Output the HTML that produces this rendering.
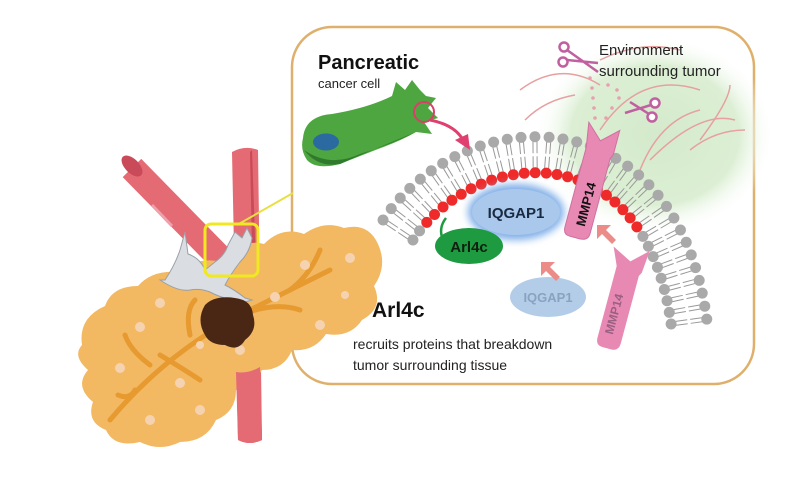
<!DOCTYPE html>
<html><head><meta charset="utf-8"><style>
html,body{margin:0;padding:0;background:#fff;width:800px;height:480px;overflow:hidden}
svg{display:block}
text{font-family:"Liberation Sans",Arial,sans-serif}
</style></head><body>
<svg id="s" width="800" height="480" viewBox="0 0 800 480" xmlns="http://www.w3.org/2000/svg">
<defs>
<radialGradient id="gg" cx="0.5" cy="0.5" r="0.5">
<stop offset="0" stop-color="#d4eacb"/><stop offset="0.7" stop-color="#dcefd4"/><stop offset="1" stop-color="#ffffff" stop-opacity="0"/>
</radialGradient>
<filter id="blur" x="-30%" y="-30%" width="160%" height="160%"><feGaussianBlur stdDeviation="4"/></filter>
</defs>
<rect x="292" y="27" width="462" height="357" rx="40" fill="#fff" stroke="#dfb06c" stroke-width="2.5"/>
<ellipse cx="655" cy="135" rx="120" ry="100" fill="url(#gg)"/>
<g fill="none" stroke="#e6a0a0" stroke-width="1.5">
<path d="M520 90 Q560 60 600 85"/><path d="M525 120 Q545 100 575 95"/>
<path d="M600 130 Q640 70 700 90"/><path d="M640 170 Q660 120 700 110"/>
<path d="M650 160 Q700 110 735 120"/><path d="M690 150 Q715 130 745 130"/>
<path d="M600 60 Q640 40 680 50"/><path d="M700 140 Q730 100 730 85"/>
</g>
<g fill="#e8a0b0"><circle cx="590" cy="78" r="1.8"/><circle cx="592" cy="88" r="1.8"/><circle cx="593" cy="98" r="1.8"/><circle cx="594" cy="108" r="1.8"/><circle cx="595" cy="118" r="1.8"/><circle cx="608" cy="85" r="1.8"/><circle cx="617" cy="90" r="1.8"/><circle cx="606" cy="118" r="1.8"/><circle cx="612" cy="108" r="1.8"/><circle cx="619" cy="98" r="1.8"/></g>
<g stroke="#c060a0" stroke-width="2.5" fill="none">
<circle cx="564" cy="47" r="4.5" fill="#fff"/><circle cx="563" cy="62" r="4.5" fill="#fff"/>
<path d="M567 50 L598 72 M567 60 L598 63"/>
<circle cx="655" cy="103" r="4.5" fill="#fff"/><circle cx="652" cy="117" r="4.5" fill="#fff"/>
<path d="M651 105 L625 113 M649 114 L630 102"/>
</g>
<text x="599" y="55" font-size="15" fill="#222">Environment</text>
<text x="599" y="76" font-size="15" fill="#222">surrounding tumor</text>
<g id="lip"></g>
<!-- cancer cell -->
<path d="M303 138 Q305 116 332 114 Q368 108 392 96 L396 82 L405 90 L412 80 L420 90 L426 96 L436 98 L428 108 L438 118 L424 122 L432 134 L416 132 Q402 140 386 146 Q360 156 340 164 Q316 170 307 160 Q300 150 303 138Z" fill="#4ea640"/>
<path d="M304 150 Q318 168 340 164 Q372 150 416 132 Q392 144 360 154 Q330 168 304 150Z" fill="#2f7a2c"/>
<ellipse cx="326" cy="142" rx="13" ry="8.5" fill="#2a6aa0"/>
<circle cx="424" cy="112" r="10" fill="none" stroke="#d8406a" stroke-width="2"/>
<path d="M430 120 Q455 125 463 140" fill="none" stroke="#e04070" stroke-width="3"/>
<path d="M455 140 L470 150 L468 134Z" fill="#e04070"/>
<text x="318" y="69" font-size="20" font-weight="bold" fill="#111">Pancreatic</text>
<text x="318" y="88" font-size="13" fill="#222">cancer cell</text>
<ellipse cx="516" cy="212" rx="48" ry="28" fill="#7faee8" filter="url(#blur)"/>
<ellipse cx="516" cy="212" rx="44" ry="23" fill="#a9c8ec"/>
<text x="516" y="218" font-size="15" font-weight="bold" fill="#1a2a40" text-anchor="middle">IQGAP1</text>
<path d="M443 240 Q438 228 446 218" stroke="#1e9a40" stroke-width="2.5" fill="none"/>
<ellipse cx="469" cy="246" rx="34" ry="18" fill="#1e9a40"/>
<text x="469" y="252" font-size="15" font-weight="bold" fill="#102010" text-anchor="middle">Arl4c</text>
<g transform="rotate(15 592 180)">
<path d="M578 150 L574 125 L590 140 L606 125 L606 150 L604 155 L604 232 Q604 240 595 240 L585 240 Q578 240 578 232Z" fill="#e889b4" stroke="#d070a0" stroke-width="1"/>
<text transform="translate(597 205) rotate(-90)" font-size="13" font-weight="bold" fill="#111" text-anchor="middle">MMP14</text>
</g>
<ellipse cx="548" cy="297" rx="38" ry="20" fill="#b3cde9"/>
<text x="548" y="302" font-size="13" font-weight="bold" fill="#8aa2c0" text-anchor="middle">IQGAP1</text>
<g transform="rotate(15 620 300)">
<path d="M608 268 L600 250 L620 260 L636 245 L634 268 L632 272 L632 342 Q632 350 624 350 L615 350 Q608 350 608 342Z" fill="#e889b4"/>
<text transform="translate(622 315) rotate(-90)" font-size="12" font-weight="bold" fill="#9a6080" text-anchor="middle">MMP14</text>
</g>
<g fill="#ec8c88">
<path d="M541 262 L541 276 L546 271 L556 281 L560 277 L550 267 L555 262Z"/>
<path d="M597 225 L597 239 L602 234 L612 244 L616 240 L606 230 L611 225Z"/>
</g>
<text x="372" y="317" font-size="21" font-weight="bold" fill="#111">Arl4c</text>
<text x="353" y="349" font-size="14" fill="#222">recruits proteins that breakdown</text>
<text x="353" y="370" font-size="14" fill="#222">tumor surrounding tissue</text>

<!-- LEFT -->
<path d="M232 152 Q245 145 258 150 L262 440 Q250 446 238 440 Z" fill="#e46a74"/>
<path d="M252 150 L262 440 L256 442 L250 152Z" fill="#c94a58"/>
<line x1="132" y1="168" x2="228" y2="266" stroke="#e46a74" stroke-width="26"/>
<ellipse cx="132" cy="166" rx="13" ry="7" fill="#c94a58" transform="rotate(45 132 166)"/>
<path d="M152 205 L172 226" stroke="#f0a0aa" stroke-width="3"/>
<!-- pancreas -->
<path d="M82 345 Q78 318 105 306 Q112 286 138 286 Q152 270 178 272 Q198 256 222 262 Q240 238 264 244 Q282 226 304 234 Q324 220 344 228 Q368 222 378 244 Q388 266 374 286 Q384 308 362 320 Q350 338 326 334 Q314 352 292 350 Q284 370 262 370 Q250 390 236 390 Q236 412 216 420 Q206 442 180 442 Q160 452 140 442 Q114 448 106 430 Q86 422 93 402 Q74 386 88 370 Q72 356 82 345Z" fill="#f2b862"/>
<g stroke="#e69a30" stroke-width="5" fill="none" stroke-linecap="round">
<path d="M110 420 Q160 360 230 320 Q290 290 330 270"/>
<path d="M150 365 Q130 350 125 335"/><path d="M190 335 Q185 310 195 300"/>
<path d="M230 320 Q270 300 300 310"/><path d="M290 290 Q310 275 320 250"/>
<path d="M160 355 Q185 370 200 380"/><path d="M135 390 Q130 400 118 395"/>
</g>
<g fill="#f6d3b0"><circle cx="140" cy="327" r="5"/><circle cx="160" cy="303" r="5"/><circle cx="180" cy="383" r="5"/><circle cx="120" cy="368" r="5"/><circle cx="150" cy="420" r="5"/><circle cx="200" cy="410" r="5"/><circle cx="275" cy="297" r="5"/><circle cx="305" cy="265" r="5"/><circle cx="350" cy="258" r="5"/><circle cx="320" cy="325" r="5"/><circle cx="240" cy="350" r="5"/><circle cx="200" cy="345" r="4"/><circle cx="345" cy="295" r="4"/></g>
<path d="M236 372 L238 440 Q250 446 262 440 L260 367 Q248 374 236 372Z" fill="#e46a74"/>
<path d="M165 280 Q175 265 180 250 L185 232 L188 254 Q200 258 205 270 L215 262 Q225 255 228 245 L235 232 L242 238 L247 228 L252 238 Q250 252 240 262 Q230 275 225 285 Q235 290 245 298 L252 300 L245 302 Q225 300 210 292 Q200 288 190 290 Q178 292 160 280Z" fill="#dadee2" stroke="#9aa0a8" stroke-width="1"/>
<path d="M205 305 Q215 295 235 298 Q252 300 253 315 Q258 330 245 340 Q238 352 225 345 Q210 345 205 335 Q196 320 205 305Z" fill="#4a2714"/>
<line x1="237" y1="225" x2="293" y2="193" stroke="#e8e040" stroke-width="2"/>
<rect x="205" y="224" width="53" height="52" rx="6" fill="none" stroke="#f0e820" stroke-width="3"/>
</svg>
<script>
(function(){
var P=[[398,230],[470,122],[665,110],[690,330]];
function B(t){var u=1-t;return [u*u*u*P[0][0]+3*u*u*t*P[1][0]+3*u*t*t*P[2][0]+t*t*t*P[3][0],u*u*u*P[0][1]+3*u*u*t*P[1][1]+3*u*t*t*P[2][1]+t*t*t*P[3][1]];}
var pts=[],N=2000,len=0,prev=B(0);pts.push([0,0]);
for(var i=1;i<=N;i++){var p=B(i/N);len+=Math.hypot(p[0]-prev[0],p[1]-prev[1]);pts.push([i/N,len]);prev=p;}
var g=document.getElementById('lip'),h='';
var step=12.5,n=Math.floor(len/step);
for(var k=0;k<=n;k++){var L=k*step,j=0;while(j<N&&pts[j][1]<L)j++;var t=pts[j][0];
var a=B(Math.max(0,t-0.002)),b=B(Math.min(1,t+0.002));var dx=b[0]-a[0],dy=b[1]-a[1],m=Math.hypot(dx,dy);dx/=m;dy/=m;
var nx=dy,ny=-dx;var c=B(t);
var ox=c[0]+nx*18,oy=c[1]+ny*18,ix=c[0]-nx*18,iy=c[1]-ny*18;
for(var s=-1;s<=1;s+=2){var tx=dx*2*s,ty=dy*2*s;
h+='<line x1="'+(ox-nx*4+tx)+'" y1="'+(oy-ny*4+ty)+'" x2="'+(c[0]+nx*1.5+tx)+'" y2="'+(c[1]+ny*1.5+ty)+'" stroke="#999" stroke-width="1"/>';
h+='<line x1="'+(ix+nx*4+tx)+'" y1="'+(iy+ny*4+ty)+'" x2="'+(c[0]-nx*1.5+tx)+'" y2="'+(c[1]-ny*1.5+ty)+'" stroke="#999" stroke-width="1"/>';}
h+='<circle cx="'+ox+'" cy="'+oy+'" r="5.5" fill="#a9a9a9"/>';
var red=(ix>424&&ix<642);
h+='<circle cx="'+ix+'" cy="'+iy+'" r="5.5" fill="'+(red?'#ee2a2a':'#a9a9a9')+'"/>';}
g.innerHTML=h;
})();
</script>
</body></html>
